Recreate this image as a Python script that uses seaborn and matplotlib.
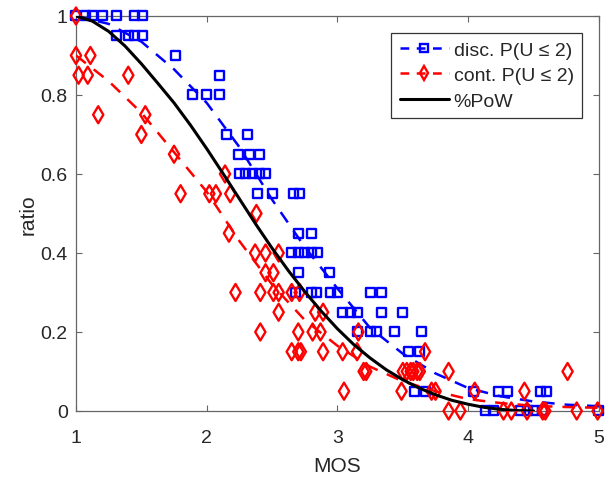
import numpy as np
import pandas as pd
import matplotlib
matplotlib.use('Agg')
import matplotlib.pyplot as plt
import seaborn as sb
from matplotlib.lines import Line2D

# discrete rating scale: P(U <= 2) per test condition
disc_mos = [1.0, 1.07, 1.13, 1.20, 1.31, 1.45, 1.51,
            1.31, 1.40, 1.45, 1.51,
            1.76,
            2.10,
            1.89, 2.00, 2.10,
            2.15, 2.31,
            2.24, 2.33, 2.40,
            2.25, 2.30, 2.35, 2.40, 2.45,
            2.39, 2.50, 2.66, 2.71,
            2.70, 2.80,
            2.65, 2.70, 2.75, 2.80, 2.85,
            2.70, 2.94,
            2.68, 2.80, 2.84, 2.95, 3.00, 3.25, 3.34,
            3.04, 3.10, 3.15, 3.34, 3.50,
            3.15, 3.25, 3.30, 3.44, 3.64,
            3.54, 3.63,
            3.59, 3.67, 4.04, 4.23, 4.30, 4.55, 4.60,
            4.13, 4.19, 4.40, 4.45, 4.50, 4.57, 5.0]
disc_ratio = [1.0]*7 + [0.95]*4 + [0.9] + [0.85] + [0.8]*3 + [0.7]*2 + [0.65]*3 + \
             [0.6]*5 + [0.55]*4 + [0.45]*2 + [0.4]*5 + [0.35]*2 + [0.3]*7 + [0.25]*5 + \
             [0.2]*5 + [0.15]*2 + [0.05]*7 + [0.0]*7

# continuous rating scale
cont_mos = [1.0,
            1.0, 1.11,
            1.02, 1.09, 1.40,
            1.17, 1.53,
            1.50,
            1.75,
            2.14,
            1.80, 2.02, 2.07, 2.18,
            2.38,
            2.17,
            2.37, 2.45, 2.55,
            2.45, 2.51,
            2.22, 2.41, 2.51, 2.55, 2.65, 2.71,
            2.55, 2.83, 2.89,
            2.41, 2.70, 2.81, 2.87, 3.16,
            2.65, 2.70, 2.72, 2.89, 3.04, 3.15, 3.67,
            3.20, 3.22, 3.50, 3.53, 3.56, 3.58, 3.61, 3.63, 3.85, 4.76,
            3.05, 3.49, 3.72, 3.75, 4.05, 4.43,
            3.85, 3.94, 4.27, 4.33, 4.45, 4.57, 4.59, 4.83, 4.99]
cont_ratio = [1.0] + [0.9]*2 + [0.85]*3 + [0.75]*2 + [0.7] + [0.65] + [0.6] + [0.55]*4 + \
             [0.5] + [0.45] + [0.4]*3 + [0.35]*2 + [0.3]*6 + [0.25]*3 + [0.2]*5 + \
             [0.15]*7 + [0.1]*10 + [0.05]*6 + [0.0]*9

# fitted curves
fit_mos = [1.0, 1.25, 1.5, 1.75, 2.0, 2.25, 2.5, 2.75, 3.0, 3.25, 3.5, 3.75, 4.0, 4.25, 4.5, 4.75, 5.0]
disc_fit = [1.0, 0.98, 0.935, 0.865, 0.78, 0.668, 0.535, 0.415, 0.31, 0.21, 0.145, 0.095, 0.058, 0.037, 0.024, 0.016, 0.012]
cont_fit = [0.9, 0.835, 0.755, 0.655, 0.555, 0.43, 0.32, 0.23, 0.165, 0.112, 0.075, 0.05, 0.03, 0.02, 0.013, 0.01, 0.008]

pow_mos = [1.0, 1.125, 1.25, 1.375, 1.5, 1.625, 1.75, 1.875, 2.0, 2.125, 2.25, 2.375, 2.5, 2.625,
           2.75, 2.875, 3.0, 3.125, 3.25, 3.375, 3.5, 3.625, 3.75, 3.875, 4.0, 4.125, 4.25, 4.375, 4.5]
pow_ratio = [1.0, 0.987, 0.961, 0.924, 0.879, 0.83, 0.78, 0.724, 0.664, 0.601, 0.537, 0.473, 0.412, 0.355,
             0.302, 0.253, 0.208, 0.168, 0.134, 0.104, 0.079, 0.058, 0.041, 0.027, 0.017, 0.009, 0.004, 0.001, 0.0]

sb.set_style('white')
plt.rcParams['font.family'] = ['Liberation Sans', 'DejaVu Sans']

fig, ax = plt.subplots(figsize=(6.05, 4.81), dpi=100)
fig.subplots_adjust(left=0.1256, right=0.990, top=0.9647, bottom=0.1435)

sb.scatterplot(x=disc_mos, y=disc_ratio, marker='s', s=42, ax=ax, zorder=3, clip_on=False)
pts = ax.collections[-1]
pts.set_facecolor('none'); pts.set_edgecolor('blue'); pts.set_linewidth(1.7)
sb.lineplot(x=fit_mos, y=disc_fit, color='blue', lw=1.8, ls=(0, (5, 4)), sort=False, estimator=None, ax=ax, zorder=4)

sb.scatterplot(x=cont_mos, y=cont_ratio, marker='d', s=75, ax=ax, zorder=5, clip_on=False)
pts = ax.collections[-1]
pts.set_facecolor('none'); pts.set_edgecolor('red'); pts.set_linewidth(1.7)
sb.lineplot(x=fit_mos, y=cont_fit, color='red', lw=1.8, ls=(0, (5, 4)), sort=False, estimator=None, ax=ax, zorder=6)

sb.lineplot(x=pow_mos, y=pow_ratio, color='black', lw=2.2, sort=False, estimator=None, ax=ax, zorder=7)

ax.set_xlim(1, 5)
ax.set_ylim(0, 1)
ax.set_xticks([1, 2, 3, 4, 5])
ax.set_yticks([0, 0.2, 0.4, 0.6, 0.8, 1])
ax.set_yticklabels(['0', '0.2', '0.4', '0.6', '0.8', '1'])
ax.tick_params(direction='in', length=4, width=0.8, colors='#666666', labelcolor='#262626',
               labelsize=14, top=True, right=True, bottom=True, left=True)
ax.tick_params(axis='x', pad=13)
ax.tick_params(axis='y', pad=6)
for s in ax.spines.values():
    s.set_color('#666666')
    s.set_linewidth(0.9)
ax.set_xlabel('MOS', fontsize=15, color='#262626', labelpad=7)
ax.set_ylabel('ratio', fontsize=15, color='#262626', labelpad=2)

handles = [Line2D([], [], color='blue', ls=(0, (3.5, 3)), lw=1.8, marker='s', ms=5.5, mfc='none', mew=1.7),
           Line2D([], [], color='red', ls=(0, (3.5, 3)), lw=1.8, marker='d', ms=7, mfc='none', mew=1.7),
           Line2D([], [], color='black', lw=2.2)]
leg = ax.legend(handles, ['disc. P(U ≤ 2)', 'cont. P(U ≤ 2)', '%PoW'], loc='upper right',
                fontsize=14, handlelength=2.5, handletextpad=0.25, fancybox=False, framealpha=1,
                edgecolor='#333333', borderaxespad=0.85, borderpad=0.45, labelspacing=0.4)
leg.get_frame().set_linewidth(0.9)
leg.set_zorder(10)

plt.savefig('out.png')
